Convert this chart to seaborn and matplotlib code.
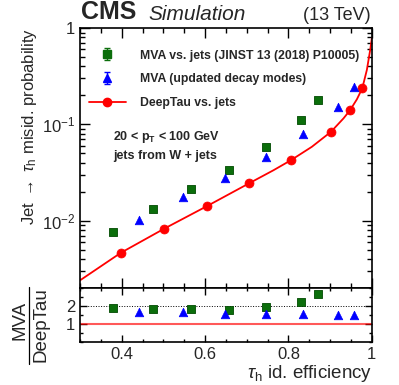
import numpy as np
import pandas as pd
import seaborn as sns
import matplotlib.pyplot as plt
from matplotlib.ticker import FixedLocator, MultipleLocator, LogLocator, NullFormatter
from matplotlib.legend_handler import HandlerErrorbar
from matplotlib.lines import Line2D

# working points
mva_old_eff = [0.380, 0.474, 0.566, 0.657, 0.746, 0.830, 0.872]
mva_old_fake = [0.0077, 0.0131, 0.0212, 0.034, 0.058, 0.111, 0.179]
mva_old_ratio = [1.89, 1.85, 1.83, 1.80, 1.93, 2.24, 2.69]

mva_new_eff = [0.442, 0.546, 0.648, 0.745, 0.834, 0.918, 0.958]
mva_new_fake = [0.0101, 0.0176, 0.028, 0.046, 0.0787, 0.150, 0.243]
mva_new_ratio = [1.69, 1.67, 1.57, 1.54, 1.56, 1.52, 1.52]

deep_eff = [0.398, 0.502, 0.605, 0.706, 0.806, 0.902, 0.948, 0.977]
deep_fake = [0.00464, 0.00826, 0.0142, 0.0245, 0.0425, 0.0838, 0.141, 0.237]

# full DeepTau ROC curve
curve_eff = [0.300, 0.398, 0.502, 0.605, 0.706, 0.764, 0.806, 0.856, 0.902, 0.932,
             0.948, 0.964, 0.977, 0.988, 0.996, 1.000]
curve_fake = [0.0024, 0.00464, 0.00826, 0.0142, 0.0245, 0.0334, 0.0425, 0.0585, 0.0838, 0.1155,
              0.141, 0.182, 0.237, 0.368, 0.594, 0.787]

labels = ['MVA vs. jets (JINST 13 (2018) P10005)', 'MVA (updated decay modes)', 'DeepTau vs. jets']

sns.set_theme(style="ticks")
plt.rcParams['font.family'] = ['Liberation Sans', 'DejaVu Sans']
plt.rcParams['mathtext.fontset'] = 'custom'
plt.rcParams['mathtext.rm'] = 'Liberation Sans'
plt.rcParams['mathtext.it'] = 'Liberation Sans:italic'
plt.rcParams['mathtext.bf'] = 'Liberation Sans:bold'
plt.rcParams['mathtext.sf'] = 'Liberation Sans'

green = '#0b6e0b'
blue = '#0000ff'
red = '#ff0000'

fig = plt.figure(figsize=(3.99, 3.85), dpi=100)
ax = fig.add_axes([0.2005, 0.252, 0.7315, 0.675])
rax = fig.add_axes([0.2005, 0.112, 0.7315, 0.140], sharex=ax)

curve = pd.DataFrame({'eff': curve_eff, 'fake': curve_fake})
sns.lineplot(data=curve, x='eff', y='fake', color=red, lw=1.3, sort=False, ax=ax)
sns.scatterplot(x=deep_eff, y=deep_fake, marker='o', s=42, color=red, edgecolor=red, linewidth=0.5, ax=ax, zorder=4)
sns.scatterplot(x=mva_old_eff, y=mva_old_fake, marker='s', s=36, color=green, edgecolor='#004a00', linewidth=0.6, ax=ax, zorder=4)
sns.scatterplot(x=mva_new_eff, y=mva_new_fake, marker='^', s=38, color=blue, edgecolor=blue, linewidth=0.5, ax=ax, zorder=4)

ax.set_yscale('log')
ax.set_ylim(2e-3, 1)
ax.yaxis.set_major_locator(FixedLocator([1e-2, 1e-1, 1]))
ax.yaxis.set_minor_locator(LogLocator(base=10, subs=np.arange(2, 10)))
ax.yaxis.set_minor_formatter(NullFormatter())
ax.set_yticklabels([r'$10^{-2}$', r'$10^{-1}$', '1'])
ax.set_ylabel(r'Jet $\rightarrow$ $\tau_{\mathrm{h}}$ misid. probability', fontsize=12, loc='top', labelpad=2)
ax.set_xlabel('')
plt.setp(ax.get_xticklabels(), visible=False)

# legend proxies with error bars (drawn off-axis)
h1 = ax.errorbar([-1], [0.5], yerr=[0.01], fmt='s', color=green, ms=5.5, capsize=2, elinewidth=1)
h2 = ax.errorbar([-1], [0.5], yerr=[0.01], fmt='^', color=blue, ms=5.5, capsize=2, elinewidth=1)
h3 = Line2D([], [], marker='o', color=red, ms=6, lw=1.3)
ax.set_xlim(0.3, 1.0)
leg = ax.legend([h1, h2, h3], labels,
                loc='upper left', bbox_to_anchor=(0.0, 0.95), frameon=False,
                prop={'weight': 'bold', 'size': 8.8}, handlelength=3.1, labelspacing=0.95, handletextpad=1.15,
                borderaxespad=0.3,
                handler_map={h1: HandlerErrorbar(yerr_size=0.5), h2: HandlerErrorbar(yerr_size=0.5)})

ax.text(0.113, 0.57, r'20 < $\mathbf{p_{T}}$ < 100 GeV', transform=ax.transAxes, fontsize=9, fontweight='bold')
ax.text(0.113, 0.495, 'jets from W + jets', transform=ax.transAxes, fontsize=9, fontweight='bold')

fig.text(0.203, 0.937, 'CMS', fontsize=18, fontweight='bold', va='bottom')
fig.text(0.372, 0.937, 'Simulation', fontsize=15, style='italic', va='bottom')
fig.text(0.930, 0.937, '(13 TeV)', fontsize=13, ha='right', va='bottom')

# ratio panel
rax.axhline(1, color=red, lw=1.5, alpha=0.65)
rax.axhline(2, color='black', lw=0.7, ls=':')
sns.scatterplot(x=mva_old_eff, y=mva_old_ratio, marker='s', s=36, color=green, edgecolor='#004a00', linewidth=0.6, ax=rax, zorder=4)
sns.scatterplot(x=mva_new_eff, y=mva_new_ratio, marker='^', s=38, color=blue, edgecolor=blue, linewidth=0.5, ax=rax, zorder=4)
rax.set_ylim(0, 3)
rax.yaxis.set_major_locator(FixedLocator([1, 2]))
rax.yaxis.set_minor_locator(MultipleLocator(0.5))
rax.xaxis.set_minor_locator(MultipleLocator(0.05))
rax.set_xticks([0.4, 0.6, 0.8, 1.0])
rax.set_xticklabels(['0.4', '0.6', '0.8', '1'])
rax.set_xlim(0.3, 1.0)
rax.set_ylabel('')
rax.set_xlabel(r'$\tau_{\mathrm{h}}$ id. efficiency', fontsize=13.5, loc='right', labelpad=1)

# fraction label MVA / DeepTau
fig.text(20 / 399, 1 - 320 / 385, 'MVA', fontsize=13.5, rotation=90, ha='center', va='center')
fig.text(41 / 399, 1 - 325 / 385, 'DeepTau', fontsize=13.5, rotation=90, ha='center', va='center')
fig.add_artist(Line2D([29 / 399, 29 / 399], [1 - 287 / 385, 1 - 364 / 385], color='black', lw=0.9))

for a in (ax, rax):
    a.tick_params(which='both', direction='in', top=True, right=True, labelsize=12, width=1, color='black')
    a.tick_params(which='major', length=7)
    a.tick_params(which='minor', length=3.5)
    for s in a.spines.values():
        s.set_linewidth(1.2)
        s.set_color('black')
rax.tick_params(which='major', length=5)
rax.tick_params(which='minor', length=2.5)

fig.savefig('out.png', dpi=100)
